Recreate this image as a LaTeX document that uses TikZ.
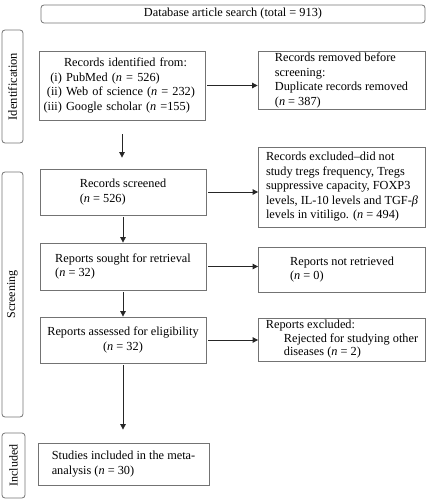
\documentclass[tikz,border=0pt]{standalone}
\usepackage{fontspec}
\setmainfont{Liberation Serif}
\usepackage{tikz}
\usetikzlibrary{arrows.meta, positioning, calc}

\begin{document}
\begin{tikzpicture}[
    x=1pt, y=-1pt,
    box/.style={rectangle, draw=black!55, line width=0.8pt, align=left, inner sep=2pt, font=\fontsize{12.3}{14.5}\selectfont},
    phase/.style={rectangle, draw=black!55, line width=0.8pt, rounded corners=3pt, minimum width=21pt, font=\fontsize{12}{14.5}\selectfont},
    arrow/.style={-{Triangle[length=5.5pt,width=5.5pt]}, draw=black!85, line width=0.8pt}
]
    \useasboundingbox (0,0) rectangle (426,500);

    % Phase labels
    \node[phase, minimum height=113pt] (idlabel) at (12.5,86.5) {};
    \node[rotate=90, font=\fontsize{12.5}{14.5}\selectfont] at (idlabel) {Identification};
    \node[phase, minimum height=245pt] (scrlabel) at (12.5,294.5) {};
    \node[rotate=90, font=\fontsize{12}{14.5}\selectfont] at (scrlabel) {Screening};
    \node[phase, minimum height=65pt, minimum width=23pt] (inclabel) at (13.5,465.5) {};
    \node[rotate=90, font=\fontsize{12}{14.5}\selectfont] at (inclabel) {Included};

    % Flow boxes
    \node[box, rounded corners=3pt, align=center, minimum width=384pt, minimum height=18pt] (search) at (233,14) {Database article search (total = 913)};
    \node[box, text width=158pt, inner xsep=4pt, minimum height=69pt] (identified) at (122,85.5) {\hspace*{21pt}Records identified from:\\
        \makebox[19pt][r]{(i)} PubMed (\textit{n} = 526)\\
        \makebox[19pt][r]{(ii)} Web of science (\textit{n} = 232)\\
        \makebox[19pt][r]{(iii)} Google scholar (\textit{n} =155)};
    \node[box, minimum width=167pt, minimum height=57pt] (removed) at (341.5,80.5) {Records removed before\\screening:\\Duplicate records removed\\(\textit{n} = 387)};
    \node[box, minimum width=166pt, minimum height=46pt] (screened) at (123,192) {Records screened\\(\textit{n} = 526)};
    \node[box, minimum width=167pt, minimum height=80pt] (recexcluded) at (342,187) {Records excluded--did not\\study tregs frequency, Tregs\\suppressive capacity, FOXP3\\levels, IL-10 levels and TGF-\textit{β}\\levels in vitiligo. (\textit{n} = 494)};
    \node[box, minimum width=166pt, minimum height=47pt] (sought) at (123,266.5) {Reports sought for retrieval\\(\textit{n} = 32)};
    \node[box, minimum width=167pt, minimum height=45pt] (notretrieved) at (342,269.5) {Reports not retrieved\\(\textit{n} = 0)};
    \node[box, align=center, minimum width=166pt, minimum height=46pt] (assessed) at (123,340) {Reports assessed for eligibility\\(\textit{n} = 32)};
    \node[box, minimum width=167pt, minimum height=43pt, font=\fontsize{12.3}{13.5}\selectfont] (repexcluded) at (342,339.5) {Reports excluded:\\\hspace*{18pt}Rejected for studying other\\\hspace*{18pt}diseases (\textit{n} = 2)};
    \node[box, minimum width=171pt, minimum height=42pt] (included) at (123.5,464) {Studies included in the meta-\\analysis (\textit{n} = 30)};

    % Connections
    \draw[arrow, shorten <=2pt] (identified.east) -- (identified.east -| removed.west);
    \draw[arrow, shorten <=2pt] (screened.east) -- (screened.east -| recexcluded.west);
    \draw[arrow, shorten <=2pt] (sought.east) -- (sought.east -| notretrieved.west);
    \draw[arrow, shorten <=2pt] (assessed.east) -- (assessed.east -| repexcluded.west);
    \draw[arrow, shorten <=14pt, shorten >=11pt] (identified.south) -- (identified.south |- screened.north);
    \draw[arrow, shorten <=2pt] (screened.south) -- (sought.north);
    \draw[arrow, shorten <=2pt] (sought.south) -- (assessed.north);
    \draw[arrow, shorten <=2pt, shorten >=13pt] (assessed.south) -- (assessed.south |- included.north);
\end{tikzpicture}
\end{document}
